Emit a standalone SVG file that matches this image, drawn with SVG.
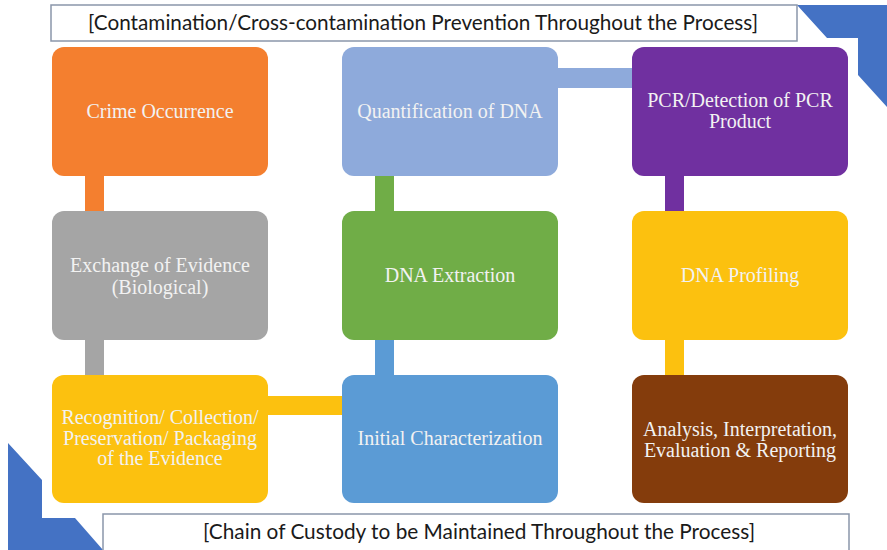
<svg xmlns="http://www.w3.org/2000/svg" width="887" height="550" viewBox="0 0 887 550">
  <style>
    .node { stroke: none; }
    .label { font-family: "Liberation Serif", "Times New Roman", serif; font-size: 20px; fill: #f2f2f2; text-anchor: middle; }
    .banner { fill: #ffffff; stroke: #8a96aa; stroke-width: 1.5; }
    .banner-text { font-family: Lato, "Open Sans", "Liberation Sans", sans-serif; font-size: 21px; fill: #1a1a1a; }
    .corner { fill: #4472c4; }
  </style>

  <rect width="887" height="550" fill="#ffffff"/>

  <!-- corner ornaments -->
  <polygon class="corner" points="797,5 887,5 887,107 858,75 858,38 827,38"/>
  <polygon class="corner" points="8,443 42,480 42,518 75,518 103,550 8,550"/>

  <!-- top banner -->
  <g id="banner-top">
    <rect class="banner" x="51" y="5" width="746" height="36"/>
    <text class="banner-text" x="88" y="30" textLength="670" lengthAdjust="spacingAndGlyphs">[Contamination/Cross-contamination Prevention Throughout the Process]</text>
  </g>

  <!-- bottom banner -->
  <g id="banner-bottom">
    <rect class="banner" x="103" y="514" width="746" height="40"/>
    <text class="banner-text" x="203" y="539" textLength="552" lengthAdjust="spacingAndGlyphs">[Chain of Custody to be Maintained Throughout the Process]</text>
  </g>

  <!-- connectors -->
  <g id="connectors">
    <rect x="85" y="175" width="19" height="37" fill="#f47f2f"/>
    <rect x="85" y="339" width="19" height="37" fill="#a5a5a5"/>
    <rect x="267" y="396" width="76" height="19" fill="#fcc10f"/>
    <rect x="375" y="339" width="19" height="37" fill="#5b9bd5"/>
    <rect x="375" y="175" width="19" height="37" fill="#70ad47"/>
    <rect x="557" y="68" width="76" height="20" fill="#8eaadb"/>
    <rect x="665" y="175" width="19" height="37" fill="#7030a0"/>
    <rect x="665" y="339" width="19" height="37" fill="#fcc10f"/>
  </g>

  <!-- column 1 -->
  <g id="crime-occurrence">
    <rect class="node" x="52" y="47" width="216" height="129" rx="12" fill="#f47f2f"/>
    <text class="label" x="160" y="118">Crime Occurrence</text>
  </g>
  <g id="exchange-of-evidence">
    <rect class="node" x="52" y="211" width="216" height="129" rx="12" fill="#a5a5a5"/>
    <text class="label" x="160" y="272">Exchange of Evidence</text>
    <text class="label" x="160" y="294">(Biological)</text>
  </g>
  <g id="recognition-collection">
    <rect class="node" x="52" y="375" width="216" height="128" rx="12" fill="#fcc10f"/>
    <text class="label" x="160" y="424">Recognition/ Collection/</text>
    <text class="label" x="160" y="445">Preservation/ Packaging</text>
    <text class="label" x="160" y="465">of the Evidence</text>
  </g>

  <!-- column 2 -->
  <g id="quantification">
    <rect class="node" x="342" y="47" width="216" height="129" rx="12" fill="#8eaadb"/>
    <text class="label" x="450" y="118">Quantification of DNA</text>
  </g>
  <g id="dna-extraction">
    <rect class="node" x="342" y="211" width="216" height="129" rx="12" fill="#70ad47"/>
    <text class="label" x="450" y="282">DNA Extraction</text>
  </g>
  <g id="initial-characterization">
    <rect class="node" x="342" y="375" width="216" height="128" rx="12" fill="#5b9bd5"/>
    <text class="label" x="450" y="445">Initial Characterization</text>
  </g>

  <!-- column 3 -->
  <g id="pcr-detection">
    <rect class="node" x="632" y="47" width="216" height="129" rx="12" fill="#7030a0"/>
    <text class="label" x="740" y="107">PCR/Detection of PCR</text>
    <text class="label" x="740" y="128">Product</text>
  </g>
  <g id="dna-profiling">
    <rect class="node" x="632" y="211" width="216" height="129" rx="12" fill="#fcc10f"/>
    <text class="label" x="740" y="282">DNA Profiling</text>
  </g>
  <g id="analysis-reporting">
    <rect class="node" x="632" y="375" width="216" height="128" rx="12" fill="#843c0c"/>
    <text class="label" x="740" y="436">Analysis, Interpretation,</text>
    <text class="label" x="740" y="457">Evaluation &amp; Reporting</text>
  </g>
</svg>
